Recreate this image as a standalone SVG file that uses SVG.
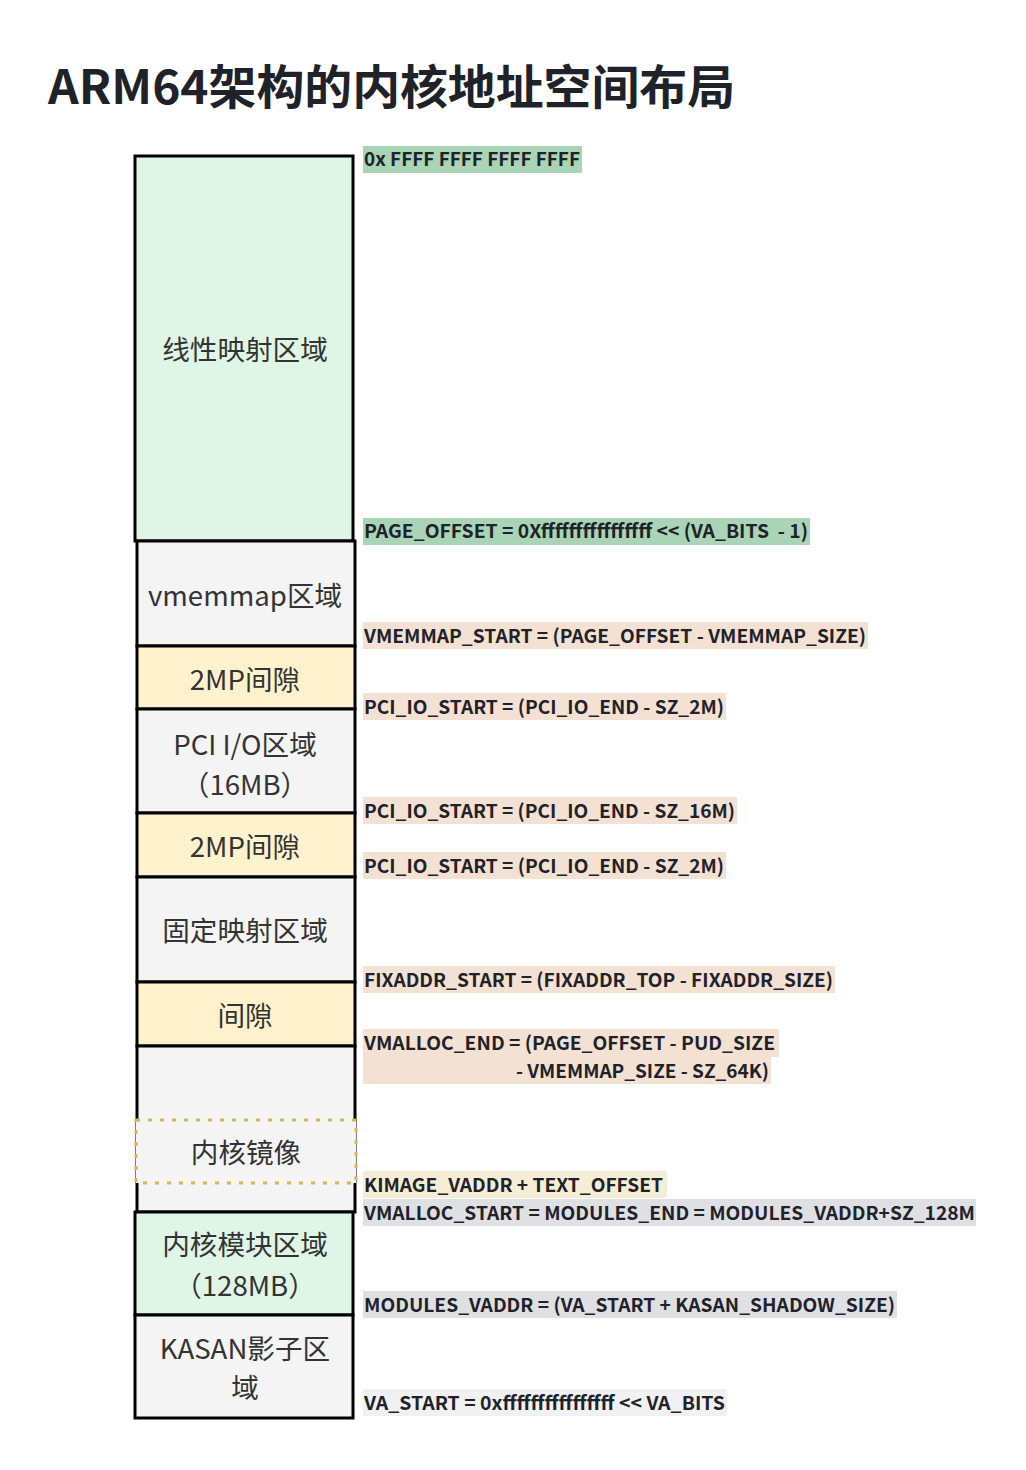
<svg xmlns="http://www.w3.org/2000/svg" width="1026" height="1470" viewBox="0 0 1026 1470">
<style>
.title{font-family:"Noto Sans CJK SC","Noto Sans",sans-serif;font-weight:700;font-size:47px;fill:#1f2329}
.box{stroke:#000;stroke-width:3}
.g{fill:#dff5e6}.w{fill:#f4f4f4}.y{fill:#fff2cc}
.bt{font-family:"Noto Sans CJK SC","Noto Sans",sans-serif;font-size:27.6px;fill:#333;text-anchor:middle}
.lt{font-family:"Noto Sans CJK SC","Noto Sans",sans-serif;font-weight:700;font-size:19px;fill:#1f2329}
.bgG{fill:#a9d4b5}.bgP{fill:#f3e1d4}.bgK{fill:#f5edd6}.bgS{fill:#dfe0e3}.bgL{fill:#f1f1f3}
</style>
<rect width="1026" height="1470" fill="#fff"/>
<text class="title" x="48" y="104" textLength="687" lengthAdjust="spacingAndGlyphs">ARM64架构的内核地址空间布局</text>

<g id="linear"><rect class="box g" x="135" y="156" width="218" height="385"/><text class="bt" x="245" y="360">线性映射区域</text></g>
<g id="vmemmap"><rect class="box w" x="137" y="541" width="218" height="105"/><text class="bt" x="245" y="606">vmemmap区域</text></g>
<g id="gap1"><rect class="box y" x="137" y="646" width="218" height="63"/><text class="bt" x="245" y="690">2MP间隙</text></g>
<g id="pci"><rect class="box w" x="137" y="709" width="218" height="104"/><text class="bt" x="245" y="755">PCI I/O区域</text><text class="bt" x="245" y="795">（16MB）</text></g>
<g id="gap2"><rect class="box y" x="137" y="813" width="218" height="64"/><text class="bt" x="245" y="857">2MP间隙</text></g>
<g id="fixmap"><rect class="box w" x="137" y="877" width="218" height="105"/><text class="bt" x="245" y="941">固定映射区域</text></g>
<g id="gap3"><rect class="box y" x="137" y="982" width="218" height="64"/><text class="bt" x="245" y="1026">间隙</text></g>
<g id="vmalloc"><rect class="box w" x="137" y="1046" width="218" height="166"/></g>
<g id="kimage"><rect x="136" y="1120" width="220" height="63" fill="#f4f4f4" stroke="#d6b656" stroke-width="3" stroke-dasharray="4 8"/><text class="bt" x="246" y="1163">内核镜像</text></g>
<g id="modules"><rect class="box g" x="135" y="1212" width="218" height="103"/><text class="bt" x="245" y="1255">内核模块区域</text><text class="bt" x="245" y="1296">（128MB）</text></g>
<g id="kasan"><rect class="box w" x="135" y="1315" width="218" height="103"/><text class="bt" x="245" y="1359">KASAN影子区</text><text class="bt" x="245" y="1398">域</text></g>

<g id="labels">
<rect class="bgG" x="363" y="146" width="219" height="27"/><text class="lt" x="364" y="166" textLength="216" lengthAdjust="spacingAndGlyphs">0x FFFF FFFF FFFF FFFF</text>
<rect class="bgG" x="363" y="518" width="447" height="27"/><text class="lt" x="364" y="538" textLength="444" lengthAdjust="spacingAndGlyphs" xml:space="preserve">PAGE_OFFSET = 0Xffffffffffffffff &lt;&lt; (VA_BITS  - 1)</text>
<rect class="bgP" x="363" y="622" width="505" height="27"/><text class="lt" x="364" y="643" textLength="502" lengthAdjust="spacingAndGlyphs">VMEMMAP_START = (PAGE_OFFSET - VMEMMAP_SIZE)</text>
<rect class="bgP" x="363" y="693" width="363" height="27"/><text class="lt" x="364" y="714" textLength="360" lengthAdjust="spacingAndGlyphs">PCI_IO_START = (PCI_IO_END - SZ_2M)</text>
<rect class="bgP" x="363" y="797" width="374" height="27"/><text class="lt" x="364" y="818" textLength="371" lengthAdjust="spacingAndGlyphs">PCI_IO_START = (PCI_IO_END - SZ_16M)</text>
<rect class="bgP" x="363" y="852" width="363" height="27"/><text class="lt" x="364" y="873" textLength="360" lengthAdjust="spacingAndGlyphs">PCI_IO_START = (PCI_IO_END - SZ_2M)</text>
<rect class="bgP" x="363" y="966" width="472" height="27"/><text class="lt" x="364" y="987" textLength="469" lengthAdjust="spacingAndGlyphs">FIXADDR_START = (FIXADDR_TOP - FIXADDR_SIZE)</text>
<rect class="bgP" x="363" y="1029" width="416" height="28"/><rect class="bgP" x="363" y="1057" width="408" height="27"/>
<text class="lt" x="364" y="1050" textLength="411" lengthAdjust="spacingAndGlyphs">VMALLOC_END = (PAGE_OFFSET - PUD_SIZE</text>
<text class="lt" x="516" y="1078" textLength="253" lengthAdjust="spacingAndGlyphs">- VMEMMAP_SIZE - SZ_64K)</text>
<rect class="bgK" x="363" y="1171" width="304" height="27"/><text class="lt" x="364" y="1192" textLength="299" lengthAdjust="spacingAndGlyphs">KIMAGE_VADDR + TEXT_OFFSET</text>
<rect class="bgS" x="363" y="1199" width="613" height="27"/><text class="lt" x="364" y="1220" textLength="611" lengthAdjust="spacingAndGlyphs">VMALLOC_START = MODULES_END = MODULES_VADDR+SZ_128M</text>
<rect class="bgS" x="363" y="1291" width="534" height="27"/><text class="lt" x="364" y="1312" textLength="531" lengthAdjust="spacingAndGlyphs">MODULES_VADDR = (VA_START + KASAN_SHADOW_SIZE)</text>
<rect class="bgL" x="363" y="1389" width="364" height="27"/><text class="lt" x="364" y="1410" textLength="361" lengthAdjust="spacingAndGlyphs">VA_START = 0xffffffffffffffff &lt;&lt; VA_BITS</text>
</g>
</svg>
